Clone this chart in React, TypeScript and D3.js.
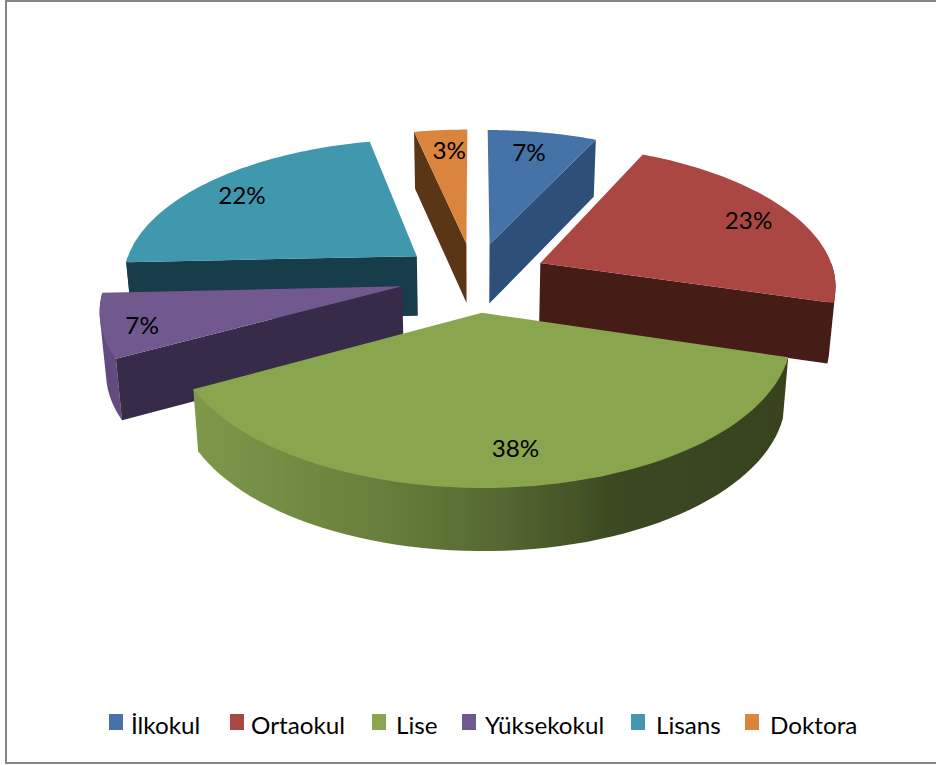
import React from "react";
import * as d3 from "d3";

const categories = ["İlkokul", "Ortaokul", "Lise", "Yüksekokul", "Lisans", "Doktora"];
const values = [7.0, 22.6, 37.5, 7.2, 22.3, 3.4];
const topColors = ["#4572a7", "#aa4643", "#89a54e", "#71588f", "#4198af", "#db843d"];
const wallColors = ["#2f4f78", "#451a19", "#384420", "#38294a", "#183c48", "#5a3416"];
const rimColors = ["#2f4f78", "#451a19", "#384420", "#644c80", "#183c48", "#5a3416"];
const legendSwatchX = [109, 230, 372, 462, 631, 745];
const legendTextX = [131, 251, 396, 485, 656, 770];
const labelFrac = [0.8, 0.68, 0.82, 0.8, 0.72, 0.8];
const labelNudge = [[-4, 0], [37, -6], [3, -2], [-21, 8], [-23, -5], [4, 0]];

const cx = 474, cy = 277, rx = 295, ry = 139, k = 0.142, e = 0.25;
const rad = (deg: number) => (deg * Math.PI) / 180;
const pct = d3.format(".0f");

function project(u: number, v: number, h = 0): [number, number] {
  const w = 1 / (1 - k * v);
  return [cx + rx * u * w * (1 - 0.017 * h), cy + ry * v * w + h * (60 + 2.5 * v)];
}

const pie = d3.pie<number>().sort(null).startAngle(0).endAngle(2 * Math.PI);
const arcs = pie(values).map((a, i) => {
  const mid = (a.startAngle + a.endAngle) / 2;
  return { i, a0: a.startAngle, a1: a.endAngle, mid, eu: e * Math.sin(mid), ev: -e * Math.cos(mid) };
});
const order = [...arcs].sort((p, q) => d3.ascending(p.ev, q.ev));

const line = d3.line();
function pt(s: typeof arcs[number], ang: number, r: number, h = 0) {
  return project(s.eu + r * Math.sin(ang), s.ev - r * Math.cos(ang), h);
}
function rimPts(s: typeof arcs[number], a0: number, a1: number, h: number) {
  return d3.range(0, 61).map((j) => pt(s, a0 + ((a1 - a0) * j) / 60, 1, h));
}
function topPath(s: typeof arcs[number]) {
  return line([pt(s, 0, 0), ...rimPts(s, s.a0, s.a1, 0)])! + "Z";
}
function radialWall(s: typeof arcs[number], ang: number) {
  return line([pt(s, ang, 0), pt(s, ang, 1), pt(s, ang, 1, 1), pt(s, ang, 0, 1)])! + "Z";
}
function rimWall(s: typeof arcs[number]) {
  const lo = Math.max(s.a0, rad(90));
  const hi = Math.min(s.a1, rad(270));
  if (hi <= lo) return null;
  const hull = d3.polygonHull([...rimPts(s, lo, hi, 0), ...rimPts(s, lo, hi, 1)]);
  return line(hull!)! + "Z";
}
const faces = (normal: number) => -Math.cos(normal) > 1e-6;

export default function App() {
  return (
    <svg width={936} height={765} style={{ position: "absolute", left: 0, top: 0 }} fontFamily="Lato, 'Open Sans', sans-serif">
      <defs>
        <linearGradient id="liseRim" gradientUnits="userSpaceOnUse" x1={197} x2={786} y1={0} y2={0}>
          <stop offset="0" stopColor="#7e984a" />
          <stop offset="0.3" stopColor="#68803c" />
          <stop offset="0.5" stopColor="#566a32" />
          <stop offset="0.72" stopColor="#3b4821" />
          <stop offset="1" stopColor="#38431f" />
        </linearGradient>
        <filter id="soft" x="-5%" y="-5%" width="110%" height="110%">
          <feGaussianBlur stdDeviation="0.5" />
        </filter>
      </defs>
      <rect x={0} y={0} width={936} height={765} fill="#fff" />
      <path d="M936,1H6V763H936" fill="none" stroke="#868686" strokeWidth={2} />
      <g filter="url(#soft)">
        {order.map((s) => {
          const rim = rimWall(s);
          return (
            <g key={s.i}>
              {rim && <path d={rim} fill={s.i === 2 ? "url(#liseRim)" : rimColors[s.i]} />}
              {faces(s.a0 - rad(90)) && <path d={radialWall(s, s.a0)} fill={wallColors[s.i]} />}
              {faces(s.a1 + rad(90)) && <path d={radialWall(s, s.a1)} fill={wallColors[s.i]} />}
              <path d={topPath(s)} fill={topColors[s.i]} />
            </g>
          );
        })}
      </g>
      {arcs.map((s) => {
        const [x, y] = pt(s, s.mid, labelFrac[s.i]);
        const tx = x + labelNudge[s.i][0];
        const ty = y + labelNudge[s.i][1];
        return (
          <text key={s.i} transform={`translate(${tx},${ty}) scale(1.055,1)`} dy="0.35em" textAnchor="middle" fontSize={23} fill="#000">
            {pct(values[s.i])}%
          </text>
        );
      })}
      {categories.map((c, i) => (
        <g key={c}>
          <rect x={legendSwatchX[i]} y={714} width={14} height={16} fill={topColors[i]} />
          <text transform={`translate(${legendTextX[i]},734) scale(1.055,1)`} fontSize={23} fill="#000">{c}</text>
        </g>
      ))}
    </svg>
  );
}
